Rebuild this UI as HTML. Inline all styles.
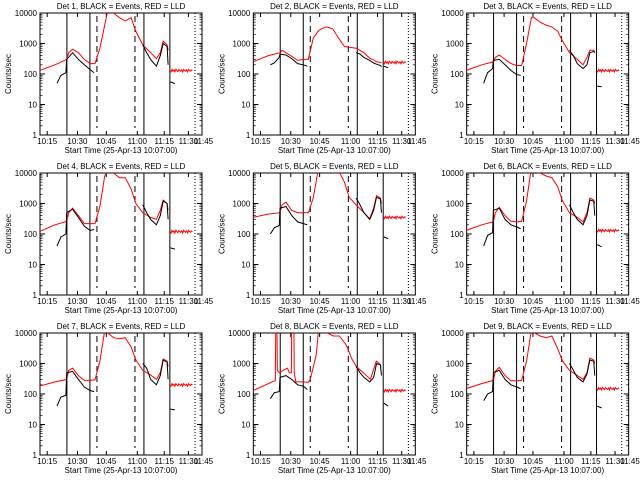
<!DOCTYPE html>
<html><head><meta charset="utf-8"><style>
html,body{margin:0;padding:0;background:#fff;}
svg{display:block;font-family:"Liberation Sans",sans-serif;}
text{font-size:8px;fill:#000;}
</style></head><body>
<svg id="chart" width="640" height="480" viewBox="0 0 640 480"></svg>
<script>
const detNames = ["1","2","3","4","5","6","7","8","9"];
const redTimes = [11,19,25,26,28,31,34,37,39.5,42,44.5,46,49,52,55,58,60.5,64,68,71,73,74.5,76.5,77];
const redValues = [
 [130,200,300,500,650,500,300,220,220,700,4000,12000,10000,7000,5500,7000,2500,900,500,320,500,1200,900,600],
 [250,400,500,600,500,380,280,300,300,1500,2500,3000,3500,3000,1500,800,750,700,500,330,290,250,240,240],
 [130,200,250,350,420,300,220,190,190,1000,7000,7000,5000,4000,3500,2500,1200,500,300,200,350,600,600,500],
 [120,200,260,500,700,400,220,220,220,800,8000,12000,10000,7000,7000,3000,1000,500,350,300,600,1300,1000,600],
 [350,450,500,900,1100,600,500,500,500,1500,12000,12000,12000,11000,12000,5000,1600,900,500,320,700,1800,1500,1000],
 [130,200,250,500,750,400,260,250,260,1200,15000,12000,10000,8000,7000,3500,1200,500,350,250,500,1500,1300,1000],
 [180,250,300,600,700,400,280,280,290,1200,12000,10000,7000,6500,7000,3500,1300,600,420,300,500,1400,1200,800],
 null,
 [150,220,280,550,750,400,270,270,280,1200,12000,10000,8000,7000,8000,3000,1200,600,400,300,500,1500,1300,1000]
];
const red8Times = [11.3,21.6,22.6,22.8,23.4,23.6,24.6,26.7,28.7,29.8,30.8,31.0,32.1,32.3,33.1,36.9,39.5,40.5,42.1,43.6,44.6,46.2,49.2,52.3,55.4,59,61.6,64.1,67.7,71.3,74.4,75.9,76.9];
const red8Values = [130,260,270,15000,15000,600,500,600,700,500,500,15000,15000,500,250,250,240,300,800,2000,10000,11000,10000,8000,8000,4000,1500,800,500,300,1200,1000,800];
const tailTimes = [78,78.5,79,79.5,80,80.5,81,81.5,82,82.5,83,83.5,84,84.5,85,85.5,86,86.5,87,87.5,88,88.5,89,89.5];
const tailLevel = [130,240,130,120,350,130,200,130,150];
const tailJitter = [1,0.9,1.1,0.95,1.05,0.9,1.1,1,0.92,1.08,1,0.94,1.06,0.9,1.1,1,0.95,1.05,0.9,1.1,1,0.95,1.05,1];
const blackATimes = [20,22,24.6,25,28,31,34,37,39];
const blackBTimes = [64,66,68,71,73,74.5,76.5,77];
const blackCTimes = [78.2,80.5];
const blackA = [[50,90,110,300,500,300,200,140,110],[200,230,350,450,420,320,220,200,180],[50,110,150,280,300,200,130,95,90],[40,80,100,500,650,350,180,130,140],[100,160,190,700,800,400,250,220,200],[40,90,110,600,700,300,200,170,150],[40,80,90,500,550,300,170,130,120],[70,110,120,350,400,300,200,180,140],[60,100,120,500,600,300,200,170,150]];
const blackB = [[900,500,300,180,400,1000,800,200],[500,450,350,280,230,210,190,170],[600,400,220,150,200,500,550,500],[900,500,300,200,400,1200,1000,300],[1500,900,500,300,600,1600,1400,500],[900,500,300,200,400,1300,1200,400],[1000,700,300,200,400,1300,1100,300],[800,500,350,250,350,1000,900,400],[1000,600,350,250,450,1300,1200,400]];
const blackC = [[55,48],[180,160],[40,38],[35,32],[80,70],[45,38],[32,30],[50,40],[40,35]];
const solidLines = [25.1,36.9,64.6,77.9];
const dashedLines = [40.5,60];
const dottedLines = [90.8];
const yTicks = [1,10,100,1000,10000];
const yTickLabels = ["1","10","100","1000","10000"];
const xTickValues = [15,30.5,45.3,61.2,75,87.4,95.1];
const xTickLabels = ["10:15","10:30","10:45","11:00","11:15","11:30","11:45"];

const NS="http://www.w3.org/2000/svg";
const svg=document.getElementById('chart');
const L=40,R=202,T=13,B=135;
function xs(t){return L+(t-11.3)*1.95;}
function ys(v){return B-Math.log10(v)*30.5;}
function mk(tag,attrs,parent){const e=document.createElementNS(NS,tag);for(const k in attrs)e.setAttribute(k,attrs[k]);parent.appendChild(e);return e;}
function poly(ts,vs,color,g,name){
  const pts=ts.map((t,i)=>xs(t).toFixed(1)+','+ys(vs[i]).toFixed(1)).join(' ');
  const p=mk('polyline',{points:pts,fill:'none',stroke:color,'stroke-width':1},g);
  
  
}
const defs=mk('defs',{},svg);
const cp=mk('clipPath',{id:'clip'},defs);
mk('rect',{x:L,y:T,width:R-L,height:B-T},cp);

detNames.forEach((d,i)=>{
  const col=i%3,row=Math.floor(i/3);
  const g=mk('g',{transform:`translate(${(col*213.33).toFixed(2)},${row*160})`},svg);
  
  
  const title=mk('text',{x:121,y:9,'text-anchor':'middle','font-size':'8.5'},g);
  title.textContent=`Det ${d}, BLACK = Events, RED = LLD`;
  
  
  const yt=mk('text',{x:11,y:74,'text-anchor':'middle',transform:'rotate(-90 11 74)','font-size':'7'},g);
  yt.textContent='Counts/sec';
  
  
  const xt=mk('text',{x:121,y:153,'text-anchor':'middle'},g);
  xt.textContent='Start Time (25-Apr-13 10:07:00)';
  
  
  yTicks.forEach((v,k)=>{
    const y=ys(v);
    const tl=mk('text',{x:37,y:y+3,'text-anchor':'end','font-size':'7.5'},g);
    tl.textContent=yTickLabels[k];
    
    
    mk('line',{x1:L,x2:L+5,y1:y,y2:y,stroke:'#000'},g);
    mk('line',{x1:R,x2:R-5,y1:y,y2:y,stroke:'#000'},g);
    if(v<10000){for(let m=2;m<10;m++){const ym=ys(v*m);mk('line',{x1:L,x2:L+2.5,y1:ym,y2:ym,stroke:'#000','stroke-width':0.7},g);mk('line',{x1:R,x2:R-2.5,y1:ym,y2:ym,stroke:'#000','stroke-width':0.7},g);}}
  });
  xTickValues.forEach((t,k)=>{
    const x=xs(t);
    const tl=mk('text',{x:x,y:144,'text-anchor':'middle','font-size':'7'},g);
    tl.textContent=xTickLabels[k];
    
    
    if(x<R){mk('line',{x1:x,x2:x,y1:B,y2:B-4,stroke:'#000'},g);mk('line',{x1:x,x2:x,y1:T,y2:T+4,stroke:'#000'},g);}
  });
  const frame=mk('rect',{x:L,y:T,width:R-L,height:B-T,fill:'none',stroke:'#000','stroke-width':1},g);
  
  
  const dg=mk('g',{'clip-path':'url(#clip)'},g);
  solidLines.forEach(t=>{const l=mk('line',{x1:xs(t),x2:xs(t),y1:T,y2:B,stroke:'#000'},dg);});
  dashedLines.forEach(t=>{const l=mk('line',{x1:xs(t),x2:xs(t),y1:T+3,y2:B-7,stroke:'#000','stroke-dasharray':'6,4'},dg);});
  dottedLines.forEach(t=>{const l=mk('line',{x1:xs(t),x2:xs(t),y1:T,y2:B,stroke:'#000','stroke-dasharray':'1,2'},dg);});
  if(redValues[i]) poly(redTimes,redValues[i],'#ff0000',dg,'lld-series');
  else poly(red8Times,red8Values,'#ff0000',dg,'lld-series');
  poly(tailTimes,tailTimes.map((t,k)=>tailLevel[i]*tailJitter[k]),'#ff0000',dg,'lld-tail-series');
  poly(blackATimes,blackA[i],'#000',dg,'events-series-a');
  poly(blackBTimes,blackB[i],'#000',dg,'events-series-b');
  poly(blackCTimes,blackC[i],'#000',dg,'events-series-c');
});
</script>
</body></html>
